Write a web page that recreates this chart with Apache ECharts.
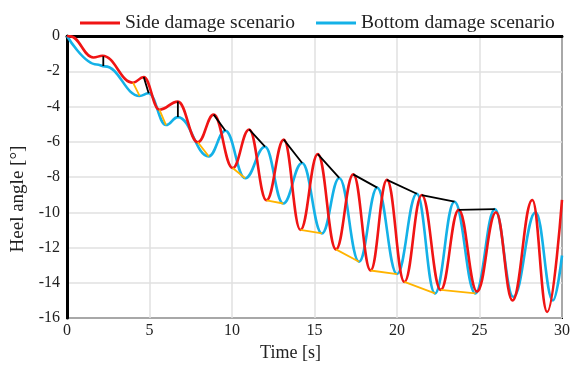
<!DOCTYPE html>
<html>
<head>
<meta charset="utf-8">
<script src="https://cdn.jsdelivr.net/npm/echarts@6/dist/echarts.min.js"></script>
<style>
  html, body { margin: 0; background: #fff; }
  #chart { width: 573px; height: 367px; }
</style>
</head>
<body>
<div id="chart"></div>
<script>
// heel angle [deg] vs time [s] (turning points)
const sideDamage = [
  [0, 0], [0.2, -0.02], [1.6, -1.22], [2.15, -1.12], [4.0, -2.65], [4.65, -2.33],
  [5.6, -4.18], [6.72, -3.72], [7.93, -6.03], [8.89, -4.46], [10.04, -7.49], [11.04, -5.3],
  [12.09, -9.32], [13.14, -5.88], [14.15, -11.0], [15.2, -6.7], [16.3, -12.1], [17.35, -7.85],
  [18.4, -13.3], [19.39, -8.16], [20.45, -13.95], [21.5, -9.02], [22.65, -14.4], [23.74, -9.86],
  [24.85, -14.5], [26.0, -10.0], [27.0, -15.0], [28.2, -9.3], [29.1, -15.65], [30, -9.3]
]
const bottomDamage = [
  [0, 0], [1.8, -1.62], [2.3, -1.72], [4.4, -3.4], [4.95, -3.25], [6.0, -5.05],
  [6.72, -4.6], [8.59, -6.83], [9.6, -5.37], [10.8, -8.07], [12.0, -6.28], [13.1, -9.5],
  [14.25, -7.2], [15.45, -11.2], [16.5, -8.05], [17.7, -12.8], [18.8, -8.6], [20.0, -13.5],
  [21.2, -8.95], [22.3, -14.6], [23.48, -9.4], [24.75, -14.6], [25.93, -9.82], [27.05, -14.8],
  [28.4, -10.0], [29.45, -15.0], [30, -12.45]
]
// black segments: side peak -> next bottom peak
const peakLinks = [
  [[2.2, -1.15], [2.2, -1.7]], [[4.65, -2.33], [4.95, -3.25]], [[6.72, -3.72], [6.72, -4.6]],
  [[8.89, -4.46], [9.6, -5.37]], [[11.04, -5.3], [12.0, -6.28]], [[13.14, -5.88], [14.25, -7.2]],
  [[15.2, -6.7], [16.5, -8.05]], [[17.35, -7.85], [18.8, -8.6]], [[19.39, -8.16], [21.2, -8.95]],
  [[21.5, -9.02], [23.48, -9.4]], [[23.74, -9.86], [25.93, -9.82]]
]
// orange segments: side trough -> next bottom trough
const troughLinks = [
  [[4.0, -2.65], [4.4, -3.4]], [[5.6, -4.18], [6.0, -5.05]], [[7.93, -6.03], [8.59, -6.83]],
  [[10.04, -7.49], [10.8, -8.07]], [[12.09, -9.32], [13.1, -9.5]], [[14.15, -11.0], [15.45, -11.2]],
  [[16.3, -12.1], [17.7, -12.8]], [[18.4, -13.3], [20.0, -13.5]], [[20.45, -13.95], [22.3, -14.6]],
  [[22.65, -14.4], [24.75, -14.6]]
]
const seriesNames = ['Side damage scenario', 'Bottom damage scenario']

const FONT = 'Liberation Serif'
const withGaps = links => links.flatMap(s => [...s, ['-', '-']])

const chart = echarts.init(document.getElementById('chart'), null, { renderer: 'canvas' })
chart.setOption({
  animation: false,
  textStyle: { fontFamily: FONT },
  legend: {
    data: seriesNames,
    left: 75,
    top: 8,
    icon: 'rect',
    itemWidth: 40,
    itemHeight: 3,
    itemGap: 21,
    textStyle: { fontFamily: FONT, fontSize: 19.5, color: '#222' },
  },
  grid: { left: 67, right: 8, top: 36, bottom: 39, show: true, borderColor: '#000', borderWidth: 2 },
  xAxis: {
    type: 'value',
    min: 0, max: 30, interval: 5,
    name: 'Time [s]',
    nameLocation: 'middle',
    nameGap: 21,
    nameTextStyle: { fontFamily: FONT, fontSize: 18, color: '#222', padding: [0, 48, 0, 0] },
    axisLine: { lineStyle: { color: '#000', width: 3 } },
    axisTick: { show: false },
    axisLabel: { fontFamily: FONT, fontSize: 16, color: '#222', margin: 5 },
    splitLine: { lineStyle: { color: '#e0e0e0', width: 1.5 } },
  },
  yAxis: {
    type: 'value',
    min: -16, max: 0, interval: 2,
    name: 'Heel angle [°]',
    nameLocation: 'middle',
    nameGap: 29,
    nameTextStyle: { fontFamily: FONT, fontSize: 19, color: '#222', padding: [0, 44, 0, 0] },
    axisLine: { show: true, lineStyle: { color: '#000', width: 3 } },
    axisTick: { show: false },
    axisLabel: { fontFamily: FONT, fontSize: 16, color: '#222', margin: 7 },
    splitLine: { lineStyle: { color: '#e0e0e0', width: 1.5 } },
  },
  series: [
    {
      name: seriesNames[1], type: 'line', data: bottomDamage,
      smooth: 0.42, smoothMonotone: 'x', showSymbol: false, z: 2,
      lineStyle: { color: '#14b1e7', width: 2.6 }, itemStyle: { color: '#14b1e7' },
    },
    {
      name: seriesNames[0], type: 'line', data: sideDamage,
      smooth: 0.42, smoothMonotone: 'x', showSymbol: false, z: 3,
      lineStyle: { color: '#f01414', width: 2.6 }, itemStyle: { color: '#f01414' },
    },
    {
      type: 'line', data: withGaps(troughLinks), showSymbol: false, connectNulls: false, z: 4,
      lineStyle: { color: '#ffb400', width: 1.8 }, silent: true,
    },
    {
      type: 'line', data: withGaps(peakLinks), showSymbol: false, connectNulls: false, z: 4,
      lineStyle: { color: '#000', width: 1.8 }, silent: true,
    },
  ],
})
</script>
</body>
</html>
